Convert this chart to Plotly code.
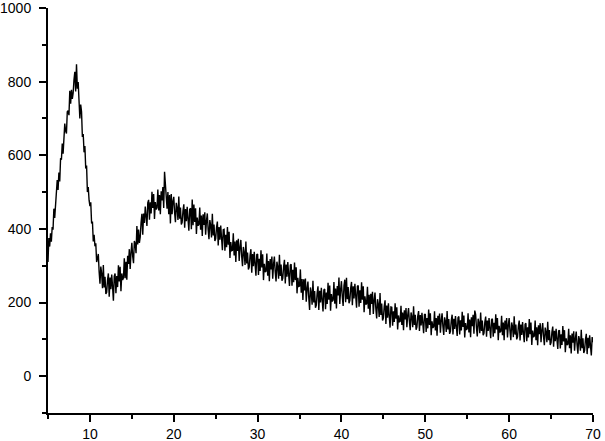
import plotly.graph_objects as go

# diffraction pattern, 2-theta from 5 to 70 in 0.1 steps
two_theta_start = 5.0
two_theta_step = 0.1

counts = [
    310, 375, 352, 388, 365, 405, 398, 455, 430, 468,   # 5
    480, 533, 506, 553, 529, 592, 588, 632, 604, 650,   # 6
    686, 666, 659, 718, 721, 709, 775, 740, 778, 753,   # 7
    769, 805, 827, 773, 847, 781, 799, 749, 700, 738,   # 8
    718, 650, 658, 608, 625, 564, 572, 500, 514, 478,   # 9
    462, 472, 415, 420, 366, 384, 353, 361, 310, 320,   # 10
    332, 283, 251, 298, 278, 239, 302, 241, 270, 223,   # 11
    228, 261, 279, 216, 268, 236, 276, 244, 205, 271,   # 12
    279, 225, 272, 242, 301, 257, 297, 231, 279, 261,   # 13
    267, 320, 266, 311, 262, 327, 305, 345, 291, 335,   # 14
    362, 326, 307, 367, 360, 334, 408, 358, 398, 362,   # 15
    378, 417, 441, 384, 442, 416, 461, 434, 408, 471,   # 16
    479, 425, 472, 442, 501, 457, 495, 427, 473, 453,   # 17
    457, 507, 450, 492, 440, 502, 477, 514, 457, 555,   # 18
    520, 505, 455, 500, 440, 492, 415, 495, 440, 475,   # 19
    487, 444, 418, 471, 457, 424, 488, 428, 458, 412,   # 20
    418, 450, 467, 403, 454, 421, 460, 427, 395, 453,   # 21
    456, 399, 480, 410, 466, 419, 456, 386, 431, 409,   # 22
    412, 458, 398, 436, 381, 440, 411, 445, 384, 422,   # 23
    442, 398, 372, 424, 410, 377, 441, 382, 412, 367,   # 24
    373, 404, 420, 355, 405, 371, 409, 375, 342, 398,   # 25
    399, 341, 384, 350, 405, 357, 392, 321, 364, 341,   # 26
    342, 388, 328, 366, 310, 369, 340, 373, 313, 350,   # 27
    370, 326, 299, 351, 336, 302, 366, 306, 336, 290,   # 28
    296, 328, 345, 281, 332, 299, 338, 305, 273, 330,   # 29
    332, 275, 319, 286, 342, 295, 331, 261, 305, 283,   # 30
    285, 333, 273, 313, 258, 318, 290, 325, 265, 304,   # 31
    325, 283, 257, 311, 297, 265, 330, 272, 303, 259,   # 32
    266, 298, 316, 252, 303, 270, 310, 277, 245, 302,   # 33
    304, 246, 289, 255, 309, 261, 296, 225, 267, 244,   # 34
    245, 290, 227, 264, 207, 263, 233, 265, 202, 238,   # 35
    257, 214, 180, 241, 227, 194, 259, 200, 231, 186,   # 36
    193, 226, 244, 180, 232, 200, 240, 207, 176, 234,   # 37
    237, 182, 227, 196, 254, 208, 246, 178, 223, 203,   # 38
    207, 256, 197, 238, 184, 245, 219, 268, 196, 235,   # 39
    258, 216, 191, 246, 262, 201, 267, 209, 242, 198,   # 40
    206, 239, 256, 193, 244, 211, 251, 218, 186, 244,   # 41
    246, 189, 233, 199, 255, 208, 244, 174, 217, 195,   # 42
    197, 243, 183, 221, 166, 224, 196, 229, 169, 206,   # 43
    227, 183, 157, 209, 195, 161, 226, 166, 197, 151,   # 44
    158, 190, 206, 142, 192, 159, 198, 164, 132, 188,   # 45
    187, 137, 176, 147, 198, 156, 187, 127, 165, 147,   # 46
    149, 191, 139, 173, 125, 179, 154, 185, 133, 165,   # 47
    185, 149, 125, 173, 161, 133, 190, 139, 167, 126,   # 48
    133, 163, 177, 123, 166, 138, 172, 144, 117, 167,   # 49
    169, 120, 158, 130, 181, 139, 171, 111, 149, 131,   # 50
    134, 176, 124, 158, 110, 164, 140, 170, 118, 151,   # 51
    171, 135, 112, 160, 149, 120, 177, 127, 155, 115,   # 52
    122, 152, 167, 113, 156, 128, 163, 135, 109, 159,   # 53
    162, 113, 152, 124, 175, 134, 165, 105, 144, 126,   # 54
    129, 171, 119, 154, 106, 160, 136, 167, 115, 178,   # 55
    168, 132, 108, 156, 145, 117, 173, 123, 151, 111,   # 56
    117, 147, 162, 107, 151, 123, 158, 129, 103, 153,   # 57
    156, 107, 145, 117, 168, 127, 158, 98, 137, 119,    # 58
    122, 164, 111, 146, 98, 151, 127, 158, 105, 138,    # 59
    158, 122, 98, 146, 135, 106, 163, 113, 140, 100,    # 60
    107, 137, 151, 97, 140, 112, 147, 118, 92, 141,     # 61
    144, 95, 133, 105, 155, 114, 146, 85, 124, 106,     # 62
    109, 151, 98, 133, 84, 138, 114, 144, 92, 124,      # 63
    144, 108, 84, 132, 120, 92, 148, 98, 125, 85,       # 64
    91, 120, 135, 80, 123, 95, 129, 100, 74, 123,       # 65
    125, 75, 114, 85, 136, 94, 125, 65, 103, 85,        # 66
    87, 129, 76, 111, 62, 116, 91, 122, 69, 102,        # 67
    121, 85, 61, 109, 98, 69, 126, 76, 103, 63,         # 68
    70, 100, 115, 60, 104, 76, 111, 82, 56, 106,        # 69
    92,                                                 # 70
]

x_ticks = [10, 20, 30, 40, 50, 60, 70]
y_ticks = [0, 200, 400, 600, 800, 1000]

fig = go.Figure()
fig.add_trace(go.Scatter(
    x0=two_theta_start, dx=two_theta_step, y=counts,
    mode="lines", line=dict(color="black", width=1.4),
    showlegend=False, cliponaxis=False,
))

axis_common = dict(
    showgrid=False, zeroline=False, automargin=False,
    showline=True, linecolor="black", linewidth=2,
    ticks="outside", ticklen=7, tickwidth=2, tickcolor="black",
    ticklabeloverflow="allow",
    tickfont=dict(family="Liberation Sans, Arial", size=14, color="black"),
)

fig.update_xaxes(
    range=[5, 70], tickvals=x_ticks,
    minor=dict(ticks="outside", ticklen=4, tickwidth=2, tickcolor="black", dtick=5, tick0=0),
    **axis_common,
)
fig.update_yaxes(
    range=[-100, 1000], tickvals=y_ticks, ticklabelstandoff=5,
    minor=dict(ticks="outside", ticklen=4, tickwidth=2, tickcolor="black", dtick=100, tick0=0),
    **axis_common,
)

fig.update_layout(
    width=605, height=441,
    margin=dict(l=48, r=12, t=8, b=28),
    paper_bgcolor="white", plot_bgcolor="white",
)

# page body has a default 8px margin; drop it so the figure sits at the corner
fig.write_html("out.html", config={"displayModeBar": False},
               post_script="document.body.style.margin='0';")
